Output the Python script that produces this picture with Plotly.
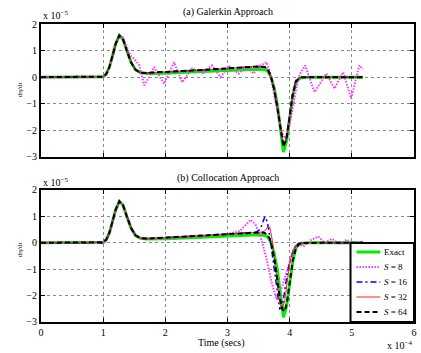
import plotly.graph_objects as go

# ---------------- data (time in units of 1e-4 s, dη/dt in units of 1e-5) ----------------
t_base = [0, 0.95, 1.0, 1.05, 1.1, 1.15, 1.2, 1.26, 1.32, 1.38,
          1.45, 1.52, 1.6, 1.7, 2.0, 2.5, 3.0, 3.3, 3.5, 3.6,
          3.65, 3.7, 3.75, 3.8, 3.85, 3.9, 3.95, 4.0, 4.05, 4.1,
          4.15, 4.2, 4.3, 4.5, 5.18]

exact = [0, 0, 0.02, 0.12, 0.38, 0.8, 1.25, 1.57, 1.42, 1.0,
         0.55, 0.28, 0.17, 0.14, 0.15, 0.2, 0.25, 0.28, 0.3, 0.28,
         0.22, 0.0, -0.4, -1.0, -1.9, -2.82, -2.4, -1.5, -0.7, -0.2,
         -0.06, -0.02, 0, 0, 0]

gal_s64 = [0, 0, 0.02, 0.12, 0.38, 0.8, 1.25, 1.57, 1.42, 1.0,
           0.55, 0.28, 0.17, 0.16, 0.19, 0.26, 0.33, 0.37, 0.4, 0.38,
           0.28, 0.02, -0.45, -1.1, -1.9, -2.62, -2.3, -1.45, -0.65, -0.17,
           -0.04, 0, 0, 0, 0]
gal_s32 = [0, 0, 0.02, 0.12, 0.38, 0.8, 1.25, 1.57, 1.42, 1.0,
           0.55, 0.28, 0.17, 0.16, 0.19, 0.26, 0.33, 0.37, 0.41, 0.39,
           0.29, 0.03, -0.42, -1.05, -1.85, -2.58, -2.3, -1.45, -0.65, -0.17,
           -0.04, 0, 0, 0, 0]
gal_s16 = [0, 0, 0.02, 0.12, 0.38, 0.8, 1.25, 1.57, 1.42, 1.0,
           0.55, 0.28, 0.17, 0.16, 0.19, 0.26, 0.33, 0.37, 0.4, 0.38,
           0.27, 0.0, -0.48, -1.12, -1.92, -2.6, -2.28, -1.4, -0.6, -0.12,
           -0.03, 0, 0, 0, 0]

t_gal8 = [0, 0.95, 1.0, 1.05, 1.1, 1.15, 1.2, 1.26, 1.32, 1.38,
          1.44, 1.5, 1.58, 1.66, 1.74, 1.82, 1.98, 2.14, 2.27, 2.43,
          2.6, 2.75, 2.89, 3.02, 3.18, 3.3, 3.42, 3.5, 3.63, 3.68,
          3.74, 3.8, 3.86, 3.92, 3.98, 4.04, 4.1, 4.16, 4.25, 4.4,
          4.59, 4.72, 4.86, 4.99, 5.12, 5.18]
gal_s8 = [0, 0, 0.0, 0.1, 0.35, 0.75, 1.2, 1.58, 1.5, 1.15,
          0.8, 0.7, 0.45, -0.3, 0.0, 0.38, -0.25, 0.56, -0.19, 0.33,
          0.15, 0.44, 0.0, 0.44, 0.13, 0.38, 0.14, 0.4, 0.56, 0.2,
          -0.5, -1.3, -2.0, -2.3, -2.0, -1.3, -0.5, 0.1, 0.44, -0.56,
          0.14, -0.43, 0.19, -0.8, 0.44, 0.3]

t_col = [0, 0.95, 1.0, 1.05, 1.1, 1.15, 1.2, 1.26, 1.32, 1.38,
         1.45, 1.52, 1.6, 1.7, 2.0, 2.5, 3.0, 3.3, 3.45, 3.5,
         3.55, 3.6, 3.64, 3.68, 3.72, 3.76, 3.8, 3.84, 3.88, 3.92,
         3.96, 4.0, 4.05, 4.1, 4.15, 4.2, 4.3, 4.5, 5.18]
col_s64 = [0, 0, 0.02, 0.12, 0.38, 0.8, 1.25, 1.57, 1.42, 1.0,
           0.55, 0.28, 0.17, 0.16, 0.19, 0.26, 0.33, 0.36, 0.38, 0.39,
           0.39, 0.37, 0.3, 0.15, -0.2, -0.7, -1.35, -2.05, -2.5, -2.6,
           -2.2, -1.5, -0.7, -0.2, -0.05, -0.01, 0, 0, 0]
col_s32 = [0, 0, 0.02, 0.12, 0.38, 0.8, 1.25, 1.57, 1.42, 1.0,
           0.55, 0.28, 0.17, 0.16, 0.19, 0.26, 0.33, 0.37, 0.39, 0.4,
           0.4, 0.45, 0.58, 0.6, 0.1, -0.7, -1.6, -2.3, -2.53, -2.2,
           -1.5, -0.8, -0.3, -0.08, -0.02, 0, 0, 0, 0]
col_s16 = [0, 0, -0.03, 0.12, 0.38, 0.8, 1.25, 1.57, 1.42, 1.0,
           0.55, 0.28, 0.17, 0.16, 0.19, 0.26, 0.33, 0.37, 0.4, 0.45,
           0.65, 0.99, 0.8, 0.24, -0.5, -1.2, -1.95, -2.5, -2.45, -1.8,
           -1.2, -0.75, -0.35, -0.08, -0.02, 0, 0, 0, 0]

t_col8 = [0, 0.95, 1.0, 1.05, 1.1, 1.15, 1.2, 1.26, 1.32, 1.38,
          1.45, 1.52, 1.6, 1.7, 2.0, 2.5, 3.0, 3.2, 3.3, 3.37,
          3.45, 3.55, 3.63, 3.71, 3.79, 3.86, 3.92, 3.98, 4.06, 4.14,
          4.22, 4.34, 4.46, 4.56, 4.68, 4.8, 4.92, 5.04, 5.18]
col_s8 = [0, 0, -0.03, 0.1, 0.35, 0.75, 1.2, 1.55, 1.45, 1.05,
          0.6, 0.3, 0.18, 0.15, 0.17, 0.24, 0.33, 0.45, 0.7, 0.87,
          0.7, 0.1, -0.64, -1.5, -2.15, -1.8, -1.35, -0.9, -0.26, -0.05,
          -0.14, 0.1, 0.24, 0.0, 0.15, -0.05, 0.12, -0.05, 0.05]

x_ticks = [0, 1, 2, 3, 4, 5, 6]
y_ticks = [-3, -2, -1, 0, 1, 2]
names = ["Exact", "<i>S</i> = 8", "<i>S</i> = 16", "<i>S</i> = 32", "<i>S</i> = 64"]

styles = [
    dict(color="#00ee00", width=3),
    dict(color="#ff33ff", width=2, dash="1.5px,1.5px"),
    dict(color="#0000ff", width=1.5, dash="6px,3px,2px,3px"),
    dict(color="#ff2020", width=1),
    dict(color="#000000", width=2, dash="5px,3px"),
]

FONT = "Liberation Serif"
fig = go.Figure()

panels = [
    ("x", "y", [(t_base, exact), (t_gal8, gal_s8), (t_base, gal_s16), (t_base, gal_s32), (t_base, gal_s64)]),
    ("x2", "y2", [(t_base, exact), (t_col8, col_s8), (t_col, col_s16), (t_col, col_s32), (t_col, col_s64)]),
]
for xa, ya, series in panels:
    for i, (tt, yy) in enumerate(series):
        fig.add_trace(go.Scatter(x=tt, y=yy, mode="lines", name=names[i], line=styles[i],
                                 xaxis=xa, yaxis=ya, showlegend=False))

axis_common = dict(
    showline=True, linewidth=2, linecolor="black", mirror="ticks",
    ticks="inside", ticklen=4, tickwidth=1, tickcolor="black",
    showgrid=True, gridcolor="#8a8a8a", griddash="dot", gridwidth=1,
    zeroline=False, tickfont=dict(family=FONT, size=10, color="black"),
)

fig.update_layout(
    width=421, height=353,
    margin=dict(l=41, r=4, t=24, b=31),
    paper_bgcolor="white", plot_bgcolor="white",
    font=dict(family=FONT, size=10, color="black"),
    xaxis=dict(domain=[0, 1], range=[0, 6], tickvals=x_ticks, showticklabels=False,
               anchor="y", **axis_common),
    yaxis=dict(domain=[0.554, 1], range=[-3, 2], tickvals=y_ticks, anchor="x", **axis_common),
    xaxis2=dict(domain=[0, 1], range=[0, 6], tickvals=x_ticks, anchor="y2", **axis_common),
    yaxis2=dict(domain=[0, 0.443], range=[-3, 2], tickvals=y_ticks, anchor="x2", **axis_common),
    showlegend=False,
)

# ---- legend box (drawn as a decoration in paper coordinates) ----
W, H, L, B = 376.0, 298.0, 41.0, 322.0
def px(xp):
    return (xp - L) / W
def py(yp):
    return (B - yp) / H

shapes = [dict(type="rect", xref="paper", yref="paper", x0=px(353), x1=px(417), y0=py(322), y1=py(243),
               fillcolor="white", line=dict(color="black", width=2), layer="above")]
ann = []
rows = [252, 267, 282, 297, 312]
for i, yrow in enumerate(rows):
    st = styles[i]
    shapes.append(dict(type="line", xref="paper", yref="paper", x0=px(359), x1=px(383),
                       y0=py(yrow), y1=py(yrow), layer="above",
                       line=dict(color=st["color"], width=st["width"], dash=st.get("dash", "solid"))))
    ann.append(dict(text=names[i], x=px(385), y=py(yrow), xanchor="left", yanchor="middle",
                    font=dict(size=9)))

ann += [
    dict(text="(a) Galerkin Approach", x=0.5, y=1.040, xanchor="center", yanchor="middle", font=dict(size=10)),
    dict(text="(b) Collocation Approach", x=0.5, y=0.483, xanchor="center", yanchor="middle", font=dict(size=10)),
    dict(text="x 10<sup>−5</sup>", x=0, y=1.030, xanchor="left", yanchor="middle", font=dict(size=10)),
    dict(text="x 10<sup>−5</sup>", x=0, y=0.470, xanchor="left", yanchor="middle", font=dict(size=10)),
    dict(text="x 10<sup>−4</sup>", x=1, y=py(345), xanchor="right", yanchor="middle", font=dict(size=10)),
    dict(text="Time (secs)", x=px(223), y=py(343), xanchor="center", yanchor="middle", font=dict(size=10)),
    dict(text="dη/dt", x=px(20), y=py(90), xanchor="center", yanchor="middle", textangle=-90, font=dict(size=7)),
    dict(text="dη/dt", x=px(20), y=py(250), xanchor="center", yanchor="middle", textangle=-90, font=dict(size=7)),
]
for a in ann:
    a.update(xref="paper", yref="paper", showarrow=False)
    a["font"]["family"] = FONT
    a["font"]["color"] = "black"
fig.update_layout(annotations=ann, shapes=shapes)

fig.write_html("out.html")
